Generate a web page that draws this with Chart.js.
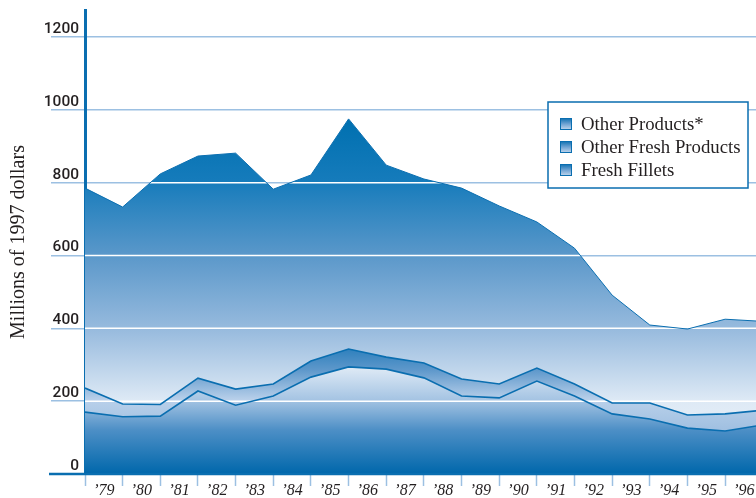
<!DOCTYPE html>
<html>
<head>
<meta charset="utf-8">
<script src="https://cdn.jsdelivr.net/npm/chart.js@4.4.1/dist/chart.umd.min.js"></script>
<style>
    html, body { margin: 0; padding: 0; background: #fff; overflow: hidden; }
</style>
</head>
<body>
<canvas id="chart" width="756" height="498"></canvas>
<script>
// Year labels sit between the tick marks; values are read at the year boundaries
const yearLabels = ['’79', '’80', '’81', '’82', '’83', '’84', '’85', '’86', '’87',
    '’88', '’89', '’90', '’91', '’92', '’93', '’94', '’95', '’96'];

// Millions of 1997 dollars (stacked, bottom to top)
const freshFillets = [170, 157, 159, 228, 189, 214, 266, 294, 288, 264, 214, 209, 255, 214, 165, 151, 126, 118, 135];
const otherFresh = [66, 35, 32, 35, 44, 33, 44, 49, 33, 41, 47, 38, 36, 33, 30, 44, 36, 47, 40];
const otherProducts = [549, 541, 633, 610, 648, 535, 511, 632, 527, 505, 524, 489, 401, 373, 296, 214, 236, 260, 244];

const yTicks = [0, 200, 400, 600, 800, 1000, 1200];

const DARK = '#0a6eb0';
const LIGHT_GRID = '#9cc0e2';
const TEXT = '#231f20';

// vertical gradient across the chart area, stops given as fractions of its height
function areaGradient(chart, stops, fallback) {
    const area = chart.chartArea;
    if (!area) return fallback;
    const g = chart.ctx.createLinearGradient(0, area.top, 0, area.bottom);
    stops.forEach(function(s) { g.addColorStop(s[0], s[1]); });
    return g;
}

function toPoints(arr) {
    return arr.map(function(v, i) { return { x: i, y: v }; });
}

// white grid lines only where the stacked area is filled
const gridOverFill = {
    id: 'gridOverFill',
    beforeDatasetsDraw: function(chart) {
        const ctx = chart.ctx;
        const area = chart.chartArea;
        const yScale = chart.scales.y;
        const pts = chart.getDatasetMeta(2).data;
        const y0 = yScale.getPixelForValue(0);
        ctx.save();
        ctx.beginPath();
        ctx.rect(area.left, area.top, area.right - area.left, area.bottom - area.top);
        ctx.clip();
        ctx.beginPath();
        ctx.moveTo(pts[0].x, y0);
        pts.forEach(function(p) { ctx.lineTo(p.x, p.y); });
        ctx.lineTo(pts[pts.length - 1].x, y0);
        ctx.closePath();
        ctx.clip();
        ctx.strokeStyle = '#ffffff';
        ctx.lineWidth = 1.5;
        yTicks.slice(1).forEach(function(v) {
            const y = yScale.getPixelForValue(v);
            ctx.beginPath();
            ctx.moveTo(area.left, y);
            ctx.lineTo(area.right, y);
            ctx.stroke();
        });
        ctx.restore();
    },
    afterDraw: function(chart) {
        const ctx = chart.ctx;
        const area = chart.chartArea;
        // baseline running left under the tick labels
        ctx.save();
        ctx.strokeStyle = DARK;
        ctx.lineWidth = 2.5;
        ctx.beginPath();
        ctx.moveTo(49, area.bottom);
        ctx.lineTo(chart.width, area.bottom);
        ctx.stroke();
        ctx.restore();
    }
};

// boxed legend inside the plot, top series first
const boxLegend = {
    id: 'boxLegend',
    afterDraw: function(chart) {
        const ctx = chart.ctx;
        const x = 548, y = 102, w = 200, h = 86;
        ctx.save();
        ctx.fillStyle = '#ffffff';
        ctx.fillRect(x, y, w, h);
        ctx.strokeStyle = DARK;
        ctx.lineWidth = 1.5;
        ctx.strokeRect(x, y, w, h);

        const items = chart.data.datasets.slice().reverse();
        ctx.font = '18.8px "Liberation Serif"';
        ctx.textBaseline = 'middle';
        items.forEach(function(ds, i) {
            const cy = y + 22 + i * 23;
            const sg = ctx.createLinearGradient(0, cy - 6, 0, cy + 6);
            sg.addColorStop(0, '#0a6eb0');
            sg.addColorStop(0.5, '#6fa3d3');
            sg.addColorStop(1, '#c5d9ee');
            ctx.fillStyle = sg;
            ctx.fillRect(560, cy - 6, 12, 12);
            ctx.strokeStyle = DARK;
            ctx.lineWidth = 1;
            ctx.strokeRect(560.5, cy - 5.5, 11, 11);
            ctx.fillStyle = TEXT;
            ctx.fillText(ds.label, 581, cy + 1);
        });
        ctx.restore();
    }
};

new Chart(document.getElementById('chart'), {
    type: 'line',
    data: {
        datasets: [
            {
                label: 'Fresh Fillets',
                data: toPoints(freshFillets),
                fill: 'origin',
                borderColor: DARK,
                borderWidth: 1.6,
                backgroundColor: function(c) {
                    return areaGradient(c.chart, [[0.765, '#e3edf7'], [0.84, '#a5c4e3'], [0.905, '#4d8fc6'], [1, '#0067ab']], '#4d8fc6');
                }
            },
            {
                label: 'Other Fresh Products',
                data: toPoints(otherFresh),
                fill: '-1',
                borderColor: DARK,
                borderWidth: 1.6,
                backgroundColor: function(c) {
                    return areaGradient(c.chart, [[0.711, '#1a76b7'], [0.776, '#5e98cb'], [0.84, '#b9d0ea'], [0.905, '#a0c0e1']], '#5e98cb');
                }
            },
            {
                label: 'Other Products*',
                data: toPoints(otherProducts),
                fill: '-1',
                borderColor: DARK,
                borderWidth: 1,
                backgroundColor: function(c) {
                    return areaGradient(c.chart, [[0.237, '#0070b0'], [0.366, '#157bbb'], [0.53, '#5b98ca'], [0.69, '#98bbde'], [0.84, '#dde9f5'], [1, '#f4f8fc']], '#5b98ca');
                }
            }
        ]
    },
    options: {
        responsive: false,
        animation: false,
        layout: { padding: { top: 10, left: 0, right: 0, bottom: 0 } },
        elements: {
            point: { radius: 0, hoverRadius: 0 },
            line: { tension: 0 }
        },
        scales: {
            x: {
                type: 'linear',
                min: 0,
                max: 17.82,
                afterBuildTicks: function(scale) {
                    scale.ticks = yearLabels.map(function(_, i) { return { value: i }; });
                },
                afterFit: function(scale) { scale.height = 24; },
                border: { display: false },
                grid: {
                    drawOnChartArea: false,
                    drawTicks: true,
                    tickLength: 12,
                    tickColor: LIGHT_GRID,
                    tickWidth: 1.5
                },
                ticks: {
                    autoSkip: false,
                    maxRotation: 0,
                    padding: -5,
                    labelOffset: 18.8,
                    color: TEXT,
                    font: { family: '"Liberation Serif"', size: 16, style: 'italic' },
                    callback: function(value) { return yearLabels[value]; }
                }
            },
            y: {
                stacked: true,
                min: 0,
                max: 1274,
                afterBuildTicks: function(scale) {
                    scale.ticks = yTicks.map(function(v) { return { value: v }; });
                },
                afterFit: function(scale) { scale.width = 85; },
                border: { display: true, color: DARK, width: 3 },
                grid: {
                    color: LIGHT_GRID,
                    lineWidth: 1.5,
                    drawTicks: true,
                    tickLength: 34,
                    tickColor: LIGHT_GRID
                },
                ticks: {
                    padding: -28,
                    labelOffset: -8,
                    color: TEXT,
                    font: { family: 'Roboto', size: 15.5, weight: '500' },
                    callback: function(value) { return String(value); }
                },
                title: {
                    display: true,
                    text: 'Millions of 1997 dollars',
                    color: TEXT,
                    padding: { top: 7, bottom: 0 },
                    font: { family: '"Liberation Serif"', size: 20 }
                }
            }
        },
        plugins: {
            legend: { display: false },
            tooltip: { enabled: false },
            filler: { drawTime: 'beforeDatasetsDraw' }
        }
    },
    plugins: [gridOverFill, boxLegend]
});
</script>
</body>
</html>
